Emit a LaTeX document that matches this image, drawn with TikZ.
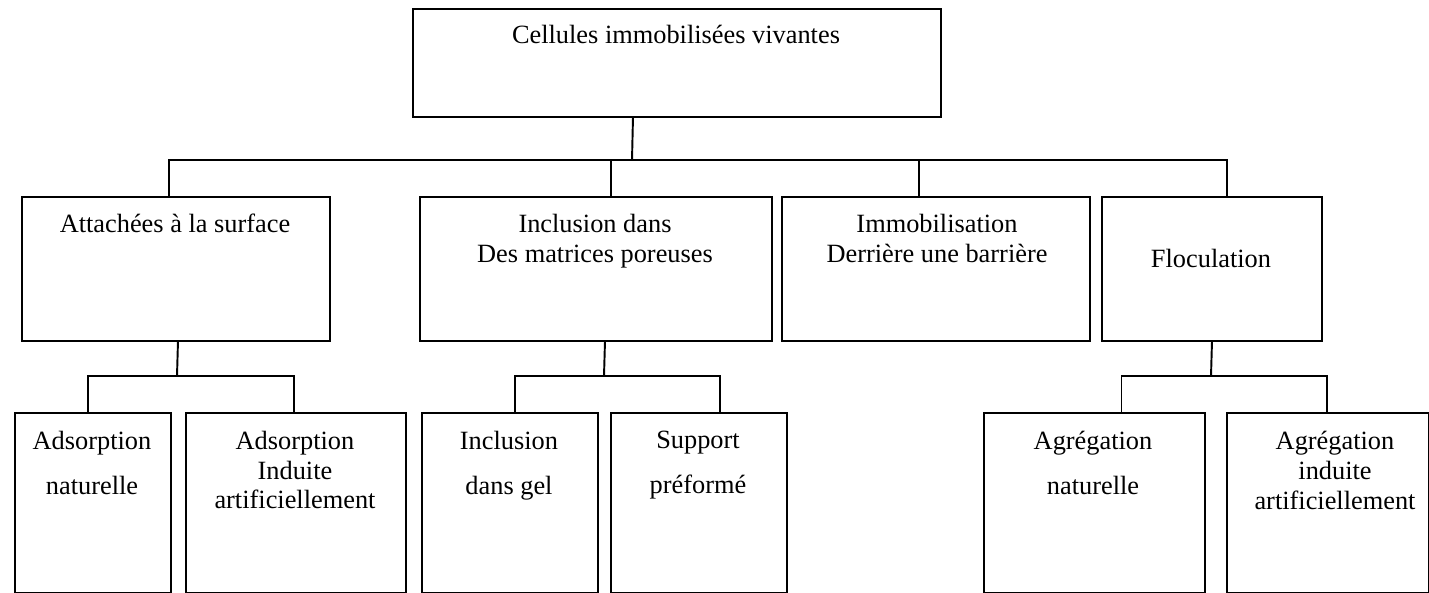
\documentclass[tikz,border=0pt]{standalone}
\usepackage{fontspec}
\setmainfont{Liberation Serif}
\newcommand\px{0.02cm}
\tikzset{
    box/.style 2 args={draw, anchor=north west, inner sep=0pt, minimum width=#1*\px, minimum height=#2*\px},
    txt/.style={align=center, inner sep=0pt, font=\fontsize{15}{17}\selectfont}
}

\begin{document}
\begin{tikzpicture}[x=0.02cm, y=-0.02cm, line width=1.1pt]
    \useasboundingbox (0,0) rectangle (1429,592);
% Boxes
    \node[box={528}{108}] (root) at (412,8) {};
    \node[box={308}{144}] (attach) at (21,196) {};
    \node[box={352}{144}] (incl) at (419,196) {};
    \node[box={308}{144}] (barr) at (781,196) {};
    \node[box={220}{144}] (flocul) at (1101,196) {};
    \node[box={156}{180}] (adsN) at (14,412) {};
    \node[box={220}{180}] (adsI) at (185,412) {};
    \node[box={176}{180}] (gelI) at (421,412) {};
    \node[box={176}{180}] (supP) at (610,412) {};
    \node[box={221}{180}] (aggN) at (983,412) {};
    \node[box={202}{180}] (aggI) at (1226,412) {};
% Texts
    \node[txt, anchor=base] (rootT) at (676,43) {Cellules immobilisées vivantes};
    \node[txt, anchor=base] (attachT) at (175,232) {Attachées à la surface};
    \node[txt, anchor=north] (inclT) at (595,213) {Inclusion dans\\Des matrices poreuses};
    \node[txt, anchor=north] (barrT) at (937,213) {Immobilisation\\Derrière une barrière};
    \node[txt, anchor=base] (floculT) at (1211,267) {Floculation};
    \node[txt, anchor=north] (adsNT) at (92,430) {Adsorption\\[8.5pt]naturelle};
    \node[txt, anchor=north] (adsIT) at (295,430) {Adsorption\\Induite\\artificiellement};
    \node[txt, anchor=north] (gelIT) at (509,430) {Inclusion\\[8.5pt]dans gel};
    \node[txt, anchor=north] (supPT) at (698,430) {Support\\[8.5pt]préformé};
    \node[txt, anchor=north] (aggNT) at (1093,430) {Agrégation\\[8.5pt]naturelle};
    \node[txt, anchor=north] (aggIT) at (1335,430) {Agrégation\\induite\\artificiellement};
% First level links
    \coordinate (bus) at (632,160);
    \draw ([xshift=-44*\px]root.south) -- (bus);
    \draw ([xshift=-7*\px]attach.north) |- (bus) -| ([xshift=15*\px]flocul.north);
    \draw ([xshift=15*\px]incl.north) -- ([xshift=15*\px]incl.north |- bus);
    \draw ([xshift=-17*\px]barr.north) -- ([xshift=-17*\px]barr.north |- bus);
% Second level links
    \coordinate (busA) at (177,376);
    \coordinate (busB) at (604,376);
    \coordinate (busD) at (1211,376);
    \draw ([xshift=2*\px]attach.south) -- (busA);
    \draw ([xshift=-5*\px]adsN.north) |- (busA) -| ([xshift=-2*\px]adsI.north);
    \draw ([xshift=9*\px]incl.south) -- (busB);
    \draw ([xshift=5*\px]gelI.north) |- (busB) -| ([xshift=21*\px]supP.north);
    \draw (flocul.south) -- (busD);
    \draw ([xshift=27*\px]aggN.north) |- (busD) -| ([xshift=-1*\px]aggI.north);
\end{tikzpicture}
\end{document}
